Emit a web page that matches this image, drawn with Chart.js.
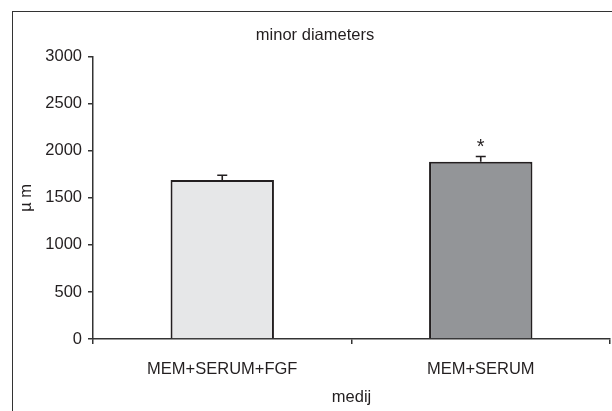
<!DOCTYPE html>
<html>
<head>
<meta charset="utf-8">
<script src="https://cdn.jsdelivr.net/npm/chart.js@4/dist/chart.umd.min.js"></script>
<style>
  body { margin: 0; background: #fff; }
  #wrap { position: relative; width: 612px; height: 411px; overflow: hidden; }
  #frame { position: absolute; left: 12px; top: 11px; width: 700px; height: 500px;
           border: 1.5px solid #333; box-sizing: border-box; }
  #chart { position: absolute; left: 0; top: 0; }
</style>
</head>
<body>
<div id="wrap">
  <div id="frame"></div>
  <canvas id="chart" width="612" height="411"></canvas>
</div>
<script>
const categories = ['MEM+SERUM+FGF', 'MEM+SERUM'];
const means = [1690, 1884];
const errors = [50, 56];
const marks = ['', '*'];
const barColors = ['#e6e7e8', '#939598'];

const ink = '#231f20';
const font = { family: 'Liberation Sans, Arial, sans-serif', size: 16.5, weight: 'normal' };

// error bars and significance marks, placed through the chart's own scales
const errorBars = {
    id: 'errorBars',
    afterDatasetsDraw(chart) {
        const ctx = chart.ctx;
        const y = chart.scales.y;
        const meta = chart.getDatasetMeta(0);
        ctx.save();
        ctx.strokeStyle = ink;
        ctx.lineWidth = 1.6;
        ctx.fillStyle = ink;
        ctx.font = '20px Liberation Sans, Arial, sans-serif';
        ctx.textAlign = 'center';
        ctx.textBaseline = 'alphabetic';
        meta.data.forEach((bar, i) => {
            const x = bar.x;
            const top = y.getPixelForValue(means[i]);
            const hi = y.getPixelForValue(means[i] + errors[i]);
            ctx.beginPath();
            ctx.moveTo(x, top);
            ctx.lineTo(x, hi);
            ctx.moveTo(x - 5, hi);
            ctx.lineTo(x + 5, hi);
            ctx.stroke();
            if (marks[i]) ctx.fillText(marks[i], x, hi - 4);
        });
        ctx.restore();
    }
};

new Chart(document.getElementById('chart'), {
    type: 'bar',
    data: {
        labels: categories,
        datasets: [{
            data: means,
            backgroundColor: barColors,
            borderColor: ink,
            borderWidth: 2,
            barPercentage: 0.4,
            categoryPercentage: 1
        }]
    },
    options: {
        responsive: false,
        animation: false,
        devicePixelRatio: 1,
        layout: { padding: { left: 20, right: 2, top: 0, bottom: 0 } },
        plugins: {
            legend: { display: false },
            tooltip: { enabled: false },
            title: {
                display: true,
                text: 'minor diameters',
                color: ink,
                font: font,
                padding: { top: 26, bottom: 11 }
            }
        },
        scales: {
            x: {
                grid: { drawOnChartArea: false, tickLength: 5, color: '#333', lineWidth: 1.5, offset: true },
                border: { color: '#333', width: 1.5 },
                ticks: { color: ink, font: font, padding: 16 },
                title: { display: true, text: 'medij', color: ink, font: font, padding: { top: 4, bottom: 4 } },
                afterFit(scale) { scale.height = 72; }
            },
            y: {
                min: 0,
                max: 3000,
                ticks: { stepSize: 500, color: ink, font: font, padding: 6,
                         callback: v => String(v) },
                grid: { drawOnChartArea: false, tickLength: 5, color: '#333', lineWidth: 1.5 },
                border: { color: '#333', width: 1.5 },
                title: { display: true, text: 'µ m', color: ink,
                         font: { family: font.family, size: 16.5, lineHeight: 0.8 }, padding: 0 },
                afterFit(scale) { scale.width = 73; }
            }
        }
    },
    plugins: [errorBars]
});
</script>
</body>
</html>
